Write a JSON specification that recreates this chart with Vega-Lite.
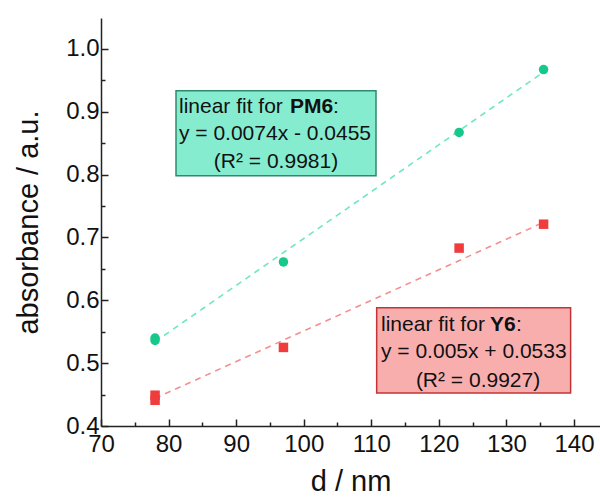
{
  "$schema": "https://vega.github.io/schema/vega-lite/v6.json",
  "autosize": {"type": "none"},
  "padding": {"left": 101, "top": 18, "right": 0, "bottom": 74},
  "width": 499,
  "height": 408,
  "background": "white",
  "config": {
    "view": {"stroke": null},
    "font": "Liberation Sans",
    "axis": {
      "grid": false,
      "labelFont": "Liberation Sans",
      "titleFont": "Liberation Sans",
      "labelFontSize": 24,
      "titleFontSize": 29,
      "titleFontWeight": "normal",
      "labelColor": "#111",
      "titleColor": "#111",
      "domainColor": "#222",
      "tickColor": "#222",
      "domainWidth": 1.5,
      "tickWidth": 1.5,
      "labelFlush": false
    }
  },
  "resolve": {
    "axis": {"x": "independent", "y": "independent"},
    "scale": {"color": "independent", "fill": "independent", "stroke": "independent", "shape": "independent"}
  },
  "datasets": {
    "pts": [
      {"d": 78, "a": 0.540, "s": "PM6"},
      {"d": 78, "a": 0.536, "s": "PM6"},
      {"d": 97, "a": 0.661, "s": "PM6"},
      {"d": 123, "a": 0.867, "s": "PM6"},
      {"d": 135.5, "a": 0.967, "s": "PM6"},
      {"d": 78, "a": 0.449, "s": "Y6"},
      {"d": 78, "a": 0.441, "s": "Y6"},
      {"d": 97, "a": 0.525, "s": "Y6"},
      {"d": 123, "a": 0.683, "s": "Y6"},
      {"d": 135.5, "a": 0.721, "s": "Y6"}
    ],
    "fits": [
      {"d": 78, "a": 0.534, "s": "PM6"},
      {"d": 135.5, "a": 0.963, "s": "PM6"},
      {"d": 78, "a": 0.444, "s": "Y6"},
      {"d": 135.5, "a": 0.724, "s": "Y6"}
    ],
    "boxes": [
      {"x1": 81.1, "x2": 110.7, "y1": 0.7981, "y2": 0.9334, "s": "PM6"},
      {"x1": 110.8, "x2": 139.5, "y1": 0.4525, "y2": 0.5879, "s": "Y6"}
    ],
    "leftText": [
      {"d": 81.54, "a": 0.8984, "t": "linear fit for"},
      {"d": 81.54, "a": 0.8554, "t": "y = 0.0074x - 0.0455"},
      {"d": 104.33, "a": 0.8984, "t": ":"},
      {"d": 111.44, "a": 0.5513, "t": "linear fit for"},
      {"d": 111.44, "a": 0.5083, "t": "y = 0.005x + 0.0533"},
      {"d": 131.42, "a": 0.5513, "t": ":"}
    ],
    "boldText": [
      {"d": 97.97, "a": 0.8984, "t": "PM6"},
      {"d": 127.57, "a": 0.5513, "t": "Y6"}
    ],
    "centerText": [
      {"d": 95.9, "a": 0.8108, "t": "(R² = 0.9981)"},
      {"d": 125.8, "a": 0.4621, "t": "(R² = 0.9927)"}
    ]
  },
  "layer": [
    {
      "data": {"name": "boxes"},
      "mark": {"type": "rect", "strokeWidth": 1.5},
      "encoding": {
        "x": {
          "field": "x1", "type": "quantitative",
          "scale": {"domain": [70, 143.85], "nice": false, "zero": false},
          "axis": {
            "title": "d / nm",
            "titlePadding": 11,
            "values": [70, 80, 90, 100, 110, 120, 130, 140],
            "tickSize": -7,
            "labelPadding": 13
          }
        },
        "x2": {"field": "x2"},
        "y": {
          "field": "y1", "type": "quantitative",
          "scale": {"domain": [0.4, 1.049], "nice": false, "zero": false},
          "axis": {
            "title": "absorbance / a.u.",
            "titlePadding": 22,
            "format": ".1f",
            "values": [0.4, 0.5, 0.6, 0.7, 0.8, 0.9, 1.0],
            "tickSize": -7,
            "labelPadding": 9
          }
        },
        "y2": {"field": "y2"},
        "fill": {"field": "s", "type": "nominal", "scale": {"domain": ["PM6", "Y6"], "range": ["#86ecd0", "#f9aeae"]}, "legend": null},
        "stroke": {"field": "s", "type": "nominal", "scale": {"domain": ["PM6", "Y6"], "range": ["#2f8a6c", "#c43434"]}, "legend": null}
      }
    },
    {
      "data": {"name": "fits"},
      "mark": {"type": "line", "strokeDash": [6, 5], "strokeWidth": 1.6},
      "encoding": {
        "x": {
          "field": "d", "type": "quantitative",
          "axis": {"orient": "bottom", "title": null, "labels": false, "domain": false, "values": [75, 85, 95, 105, 115, 125, 135], "tickSize": -4}
        },
        "y": {
          "field": "a", "type": "quantitative",
          "axis": {"orient": "left", "title": null, "labels": false, "domain": false, "values": [0.45, 0.55, 0.65, 0.75, 0.85, 0.95], "tickSize": -4}
        },
        "detail": {"field": "s"},
        "color": {"field": "s", "type": "nominal", "scale": {"domain": ["PM6", "Y6"], "range": ["#6fe6c6", "#f29090"]}, "legend": null}
      }
    },
    {
      "data": {"name": "pts"},
      "mark": {"type": "point", "filled": true, "opacity": 1},
      "encoding": {
        "x": {"field": "d", "type": "quantitative", "axis": null},
        "y": {"field": "a", "type": "quantitative", "axis": null},
        "shape": {"field": "s", "type": "nominal", "scale": {"domain": ["PM6", "Y6"], "range": ["circle", "square"]}, "legend": null},
        "size": {"value": 90},
        "color": {"field": "s", "type": "nominal", "scale": {"domain": ["PM6", "Y6"], "range": ["#16c98a", "#f03c3c"]}, "legend": null}
      }
    },
    {
      "mark": {"type": "rule", "color": "#222", "strokeWidth": 1.5},
      "encoding": {"y": {"datum": 1.049, "type": "quantitative", "axis": null}}
    },
    {
      "data": {"name": "leftText"},
      "mark": {"type": "text", "align": "left", "baseline": "alphabetic", "font": "Liberation Sans", "fontSize": 21, "color": "#111"},
      "encoding": {
        "x": {"field": "d", "type": "quantitative", "axis": null},
        "y": {"field": "a", "type": "quantitative", "axis": null},
        "text": {"field": "t"}
      }
    },
    {
      "data": {"name": "boldText"},
      "mark": {"type": "text", "align": "left", "baseline": "alphabetic", "font": "Liberation Sans", "fontSize": 21, "fontWeight": "bold", "color": "#111"},
      "encoding": {
        "x": {"field": "d", "type": "quantitative", "axis": null},
        "y": {"field": "a", "type": "quantitative", "axis": null},
        "text": {"field": "t"}
      }
    },
    {
      "data": {"name": "centerText"},
      "mark": {"type": "text", "align": "center", "baseline": "alphabetic", "font": "Liberation Sans", "fontSize": 21, "color": "#111"},
      "encoding": {
        "x": {"field": "d", "type": "quantitative", "axis": null},
        "y": {"field": "a", "type": "quantitative", "axis": null},
        "text": {"field": "t"}
      }
    }
  ]
}
